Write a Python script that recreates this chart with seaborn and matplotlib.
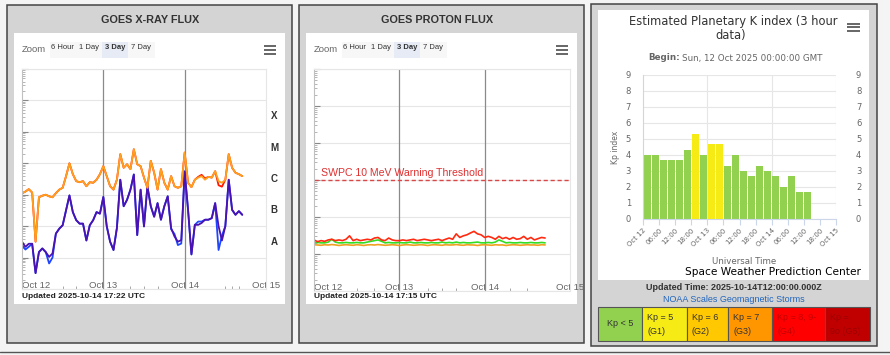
import numpy as np
import seaborn as sns
import matplotlib.pyplot as plt
from matplotlib.patches import Rectangle
from matplotlib.lines import Line2D
from matplotlib.transforms import blended_transform_factory

W, H = 890, 355

# GOES X-ray flux (W/m^2), hourly from Oct 12 00:00 UTC
xray_long = [1.1e-6, 1.26e-6, 1.5e-6, 1.17e-6, 3.2e-8, 8.3e-7, 9.3e-7, 1.0e-6, 8.9e-7, 8.3e-7,
             1.12e-6, 1.45e-6, 1.66e-6, 3.9e-6, 1.0e-5, 4.5e-6, 2.7e-6, 2.5e-6, 2.7e-6, 1.86e-6,
             2.5e-6, 2.4e-6, 3.0e-6, 4.5e-6, 8.1e-6, 3.9e-6, 1.86e-6, 1.45e-6, 3.0e-6, 1.95e-5,
             7.2e-6, 9.3e-6, 6.5e-6, 2.8e-5, 9.3e-6, 8.1e-6, 3.5e-6, 1.66e-6, 1.2e-5, 5.0e-6,
             1.45e-6, 6.5e-6, 2.4e-6, 1.45e-6, 3.9e-6, 1.86e-6, 1.66e-6, 1.86e-6, 2.2e-5, 2.4e-6,
             1.74e-6, 3.0e-6, 3.5e-6, 3.9e-6, 3.0e-6, 3.7e-6, 3.5e-6, 5.6e-6, 2.7e-6, 2.4e-6,
             3.0e-6, 1.95e-5, 7.2e-6, 5.0e-6, 4.5e-6, 3.9e-6]
xray_long_secondary = [1.1e-6, 1.26e-6, 1.5e-6, 1.17e-6, 3.2e-8, 8.3e-7, 9.3e-7, 1.0e-6, 8.9e-7, 8.3e-7,
                       1.12e-6, 1.45e-6, 1.66e-6, 3.9e-6, 1.0e-5, 4.5e-6, 2.7e-6, 2.5e-6, 2.7e-6, 1.86e-6,
                       2.5e-6, 2.4e-6, 3.0e-6, 4.5e-6, 8.1e-6, 3.9e-6, 1.86e-6, 1.45e-6, 3.0e-6, 1.95e-5,
                       7.2e-6, 9.3e-6, 6.5e-6, 2.8e-5, 9.3e-6, 8.1e-6, 3.5e-6, 1.66e-6, 1.2e-5, 5.0e-6,
                       1.45e-6, 6.5e-6, 2.4e-6, 1.45e-6, 3.9e-6, 1.86e-6, 1.66e-6, 1.86e-6, 2.2e-5, 2.4e-6,
                       1.74e-6, 3.0e-6, 3.7e-6, 4.3e-6, 3.3e-6, 3.7e-6, 3.5e-6, 5.6e-6, 2.0e-6, 1.8e-6,
                       3.0e-6, 1.95e-5, 7.2e-6, 5.0e-6, 4.5e-6, 3.9e-6]
xray_short = [3.2e-8, 2.2e-8, 2.75e-8, 2.75e-8, 3.2e-9, 1.5e-8, 1.95e-8, 1.5e-8, 1.05e-8, 1.35e-8,
              5.8e-8, 8.3e-8, 1.07e-7, 3.2e-7, 9.5e-7, 2.8e-7, 1.55e-7, 1.2e-7, 1.2e-7, 3.5e-8,
              1.07e-7, 1.55e-7, 2.8e-7, 2.5e-7, 8.5e-7, 1.0e-7, 3.2e-8, 1.74e-8, 8.7e-8, 3.0e-6,
              4.3e-7, 6.9e-7, 1.45e-6, 4.4e-6, 5.2e-8, 1.45e-6, 9.8e-8, 1.86e-6, 4.3e-7, 2.0e-7,
              5.4e-7, 1.6e-7, 4.3e-7, 8.9e-7, 8.7e-8, 4.7e-8, 3.2e-8, 3.6e-8, 5.5e-6, 3.3e-7,
              1.26e-8, 1.1e-7, 1.1e-7, 1.26e-7, 1.6e-7, 1.6e-7, 1.8e-7, 5.4e-7, 1.0e-7, 3.5e-8,
              1.0e-7, 3.0e-6, 3.3e-7, 2.3e-7, 3.0e-7, 2.3e-7]
xray_short_secondary = [2.5e-8, 1.8e-8, 2.2e-8, 2.75e-8, 3.2e-9, 1.5e-8, 1.95e-8, 1.5e-8, 6.5e-9, 1.0e-8,
                        5.8e-8, 8.3e-8, 1.07e-7, 3.2e-7, 9.5e-7, 2.8e-7, 1.55e-7, 1.2e-7, 1.2e-7, 3.5e-8,
                        1.07e-7, 1.55e-7, 2.8e-7, 2.5e-7, 8.5e-7, 1.0e-7, 3.2e-8, 1.74e-8, 8.7e-8, 3.0e-6,
                        4.3e-7, 6.9e-7, 1.45e-6, 4.4e-6, 5.2e-8, 1.45e-6, 9.8e-8, 1.86e-6, 4.3e-7, 2.0e-7,
                        5.4e-7, 1.6e-7, 4.3e-7, 8.9e-7, 8.0e-8, 5.6e-8, 2.5e-8, 2.8e-8, 5.5e-6, 3.3e-7,
                        1.26e-8, 1.1e-7, 1.4e-7, 1.4e-7, 1.6e-7, 1.6e-7, 1.8e-7, 5.4e-7, 1.74e-8, 5.0e-8,
                        1.0e-7, 3.0e-6, 3.3e-7, 2.3e-7, 3.0e-7, 2.3e-7]
flare_classes = ['A', 'B', 'C', 'M', 'X']
flare_class_floor = [1e-8, 1e-7, 1e-6, 1e-5, 1e-4]

# GOES integral proton flux (pfu), hourly
proton_10mev = [0.24, 0.215, 0.23, 0.22, 0.24, 0.25, 0.23, 0.24, 0.23, 0.25,
                0.31, 0.23, 0.25, 0.23, 0.24, 0.25, 0.24, 0.27, 0.28, 0.24,
                0.23, 0.27, 0.24, 0.23, 0.23, 0.24, 0.23, 0.24, 0.25, 0.23,
                0.24, 0.25, 0.24, 0.23, 0.24, 0.25, 0.23, 0.25, 0.27, 0.25,
                0.35, 0.28, 0.31, 0.33, 0.37, 0.41, 0.35, 0.33, 0.28, 0.30,
                0.28, 0.25, 0.30, 0.26, 0.28, 0.25, 0.28, 0.25, 0.26, 0.30,
                0.25, 0.28, 0.24, 0.26, 0.28, 0.27]
proton_50mev = [0.20, 0.205, 0.20, 0.20, 0.21, 0.25, 0.21, 0.20, 0.20, 0.205,
                0.20, 0.20, 0.205, 0.20, 0.20, 0.21, 0.22, 0.23, 0.24, 0.22,
                0.20, 0.205, 0.20, 0.20, 0.205, 0.20, 0.20, 0.21, 0.20, 0.20,
                0.205, 0.20, 0.20, 0.205, 0.20, 0.20, 0.21, 0.20, 0.205, 0.20,
                0.21, 0.20, 0.205, 0.20, 0.20, 0.205, 0.21, 0.20, 0.20, 0.205,
                0.20, 0.21, 0.24, 0.22, 0.20, 0.205, 0.20, 0.20, 0.205, 0.20,
                0.20, 0.205, 0.20, 0.20, 0.205, 0.20]
proton_100mev = [0.178, 0.175, 0.172, 0.178, 0.175, 0.18, 0.176, 0.17, 0.175, 0.178,
                 0.175, 0.172, 0.178, 0.175, 0.17, 0.176, 0.178, 0.175, 0.18, 0.176,
                 0.172, 0.175, 0.178, 0.175, 0.17, 0.175, 0.178, 0.176, 0.172, 0.175,
                 0.178, 0.175, 0.17, 0.176, 0.178, 0.175, 0.172, 0.178, 0.175, 0.176,
                 0.18, 0.175, 0.172, 0.178, 0.176, 0.175, 0.17, 0.176, 0.178, 0.175,
                 0.172, 0.178, 0.175, 0.176, 0.17, 0.175, 0.178, 0.176, 0.172, 0.175,
                 0.178, 0.175, 0.176, 0.172, 0.178, 0.176]
proton_threshold = 10

day_labels = ['Oct 12', 'Oct 13', 'Oct 14', 'Oct 15']
xray_minor_hours = [12, 16, 32, 36, 40, 60, 62, 64]
proton_minor_hours = [12, 17, 32, 36, 40, 55, 60]

# Kp index, 3-hour bins from Oct 12 00:00
kp_values = [4, 4, 3.67, 3.67, 3.67, 4.33, 5.33, 4, 4.67, 4.67, 3.33,
             4, 3, 2.67, 3.33, 3, 2.67, 2, 2.67, 1.67, 1.67]
kp_tick_labels = ['Oct 12', '06:00', '12:00', '18:00', 'Oct 13', '06:00', '12:00',
                  '18:00', 'Oct 14', '06:00', '12:00', '18:00', 'Oct 15']
storm_labels = ['Kp < 5', 'Kp = 5\n(G1)', 'Kp = 6\n(G2)', 'Kp = 7\n(G3)',
                'Kp = 8, 9-\n(G4)', 'Kp =\n9o (G5)']
storm_colors = ['#92d050', '#f6eb14', '#ffc800', '#ff9600', '#ff0000', '#c00000']
storm_text_colors = ['#333333', '#333333', '#333333', '#333333', '#c40000', '#9c0000']

sns.set_style('white')
plt.rcParams['font.family'] = ['Liberation Sans', 'DejaVu Sans']

fig = plt.figure(figsize=(8.9, 3.55), dpi=100)
fig.patch.set_facecolor('#f4f4f4')


def frect(x0, y0, x1, y1, **kw):
    kw.setdefault('zorder', -5)
    fig.add_artist(Rectangle((x0 / W, 1 - y1 / H), (x1 - x0) / W, (y1 - y0) / H,
                             transform=fig.transFigure, **kw))


def ftext(x, y, s, **kw):
    kw.setdefault('va', 'center')
    return fig.text(x / W, 1 - y / H, s, **kw)


def fline(x0, x1, y, **kw):
    fig.add_artist(Line2D([x0 / W, x1 / W], [1 - y / H] * 2, transform=fig.transFigure, **kw))


def hamburger(x0, x1, yc, gap):
    for dy in (-gap, 0, gap):
        fline(x0, x1, yc + dy, color='#666666', lw=1.4, solid_capstyle='butt')


def axes_px(x0, y0, x1, y1):
    return fig.add_axes([x0 / W, 1 - y1 / H, (x1 - x0) / W, (y1 - y0) / H])


def goes_frame(ox, title, title_x, updated):
    frect(ox + 7, 5, ox + 292, 343, fc='#d4d4d4', ec='#444444', lw=1.1)
    frect(ox + 14, 33, ox + 285, 304, fc='white', ec='none')
    ftext(title_x, 20, title, ha='center', weight='bold', size=7.8, color='#333333')
    ftext(ox + 22, 49, 'Zoom', size=6.8, color='#666666')
    frect(ox + 50, 42, ox + 155, 58, fc='#f7f7f7', ec='none')
    frect(ox + 102, 42, ox + 128, 58, fc='#e6ebf5', ec='none')
    for label, bx in zip(['6 Hour', '1 Day', '3 Day', '7 Day'], [51, 79, 105, 131]):
        ftext(ox + bx, 47.5, label, size=5.5, color='#333333',
              weight='bold' if label == '3 Day' else 'normal')
    hamburger(ox + 264, ox + 276, 50, 4)
    ftext(ox + 22, 297, updated, size=6, weight='bold', color='#222222')


def goes_axes(ax, ylim, minor_hours):
    ax.set_yscale('log')
    ax.set_ylim(*ylim)
    ax.set_xlim(0, 72)
    ax.set_facecolor('white')
    ax.grid(True, axis='y', which='major', color='#e6e6e6', lw=0.8)
    ax.grid(False, axis='x')
    for h in (24, 48):
        ax.axvline(h, color='#8a8a8a', lw=0.9, zorder=1)
    for s in ax.spines.values():
        s.set_color('#e6e6e6')
        s.set_linewidth(0.8)
    ax.spines['left'].set_color('#c0c0c0')
    ax.set_xticks([0, 24, 48, 72])
    ax.set_xticklabels(day_labels)
    ax.set_xticks(minor_hours, minor=True)
    ax.tick_params(axis='x', which='major', bottom=True, length=0, pad=-5.5,
                   labelsize=6.8, labelcolor='#666666')
    ax.tick_params(axis='x', which='minor', bottom=True, direction='in', length=2.5, color='#999999')
    ax.tick_params(axis='y', which='major', left=True, direction='in', length=4,
                   color='#888888', labelleft=False)
    ax.tick_params(axis='y', which='minor', left=True, direction='in', length=2,
                   color='#aaaaaa', labelleft=False)
    ax.get_xticklabels()[0].set_ha('left')
    ax.set_xlabel('')
    ax.set_ylabel('')


# ---- GOES X-ray flux panel ----
goes_frame(0, 'GOES X-RAY FLUX', 150, 'Updated 2025-10-14 17:22 UTC')
ax1 = axes_px(22, 69, 266, 289)
xray_hours = np.arange(len(xray_long))
sns.lineplot(x=xray_hours, y=xray_short_secondary, color='#1f45ff', lw=1.3, ax=ax1)
sns.lineplot(x=xray_hours, y=xray_short, color='#4a12b0', lw=1.3, ax=ax1)
sns.lineplot(x=xray_hours, y=xray_long_secondary, color='#ff1a00', lw=1.3, ax=ax1)
sns.lineplot(x=xray_hours, y=xray_long, color='#ffa01e', lw=1.3, ax=ax1)
goes_axes(ax1, (1e-9, 1e-2), xray_minor_hours)
trans = blended_transform_factory(ax1.transAxes, ax1.transData)
for cls, floor in zip(flare_classes, flare_class_floor):
    ax1.text(1.033, floor * np.sqrt(10), cls, transform=trans, ha='center', va='center',
             size=7, weight='bold', color='#333333', clip_on=False)

# ---- GOES proton flux panel ----
goes_frame(292, 'GOES PROTON FLUX', 437, 'Updated 2025-10-14 17:15 UTC')
ax2 = axes_px(314, 69, 570, 291)
proton_hours = np.arange(len(proton_10mev))
sns.lineplot(x=proton_hours, y=proton_100mev, color='#f0a020', lw=1.2, ax=ax2)
sns.lineplot(x=proton_hours, y=proton_50mev, color='#33dd22', lw=1.2, ax=ax2)
sns.lineplot(x=proton_hours, y=proton_10mev, color='#ff2a10', lw=1.2, ax=ax2)
goes_axes(ax2, (1e-2, 1e4), proton_minor_hours)
ax2.axhline(proton_threshold, color='#d84848', lw=1, ls=(0, (3, 2)))
ax2.text(2, proton_threshold * 10 ** 0.05, 'SWPC 10 MeV Warning Threshold',
         color='#e03030', size=7.6, va='bottom', ha='left')

# ---- Kp index panel ----
frect(591, 4, 877, 346, fc='#d4d4d4', ec='#444444', lw=1.1)
frect(598, 10, 869, 280, fc='white', ec='none')
ftext(733, 22, 'Estimated Planetary K index (3 hour', ha='center', size=8.3,
      color='#333333', family='DejaVu Sans')
ftext(731, 36, 'data)', ha='center', size=8.3, color='#333333', family='DejaVu Sans')
hamburger(847, 860, 27, 3.5)
ftext(648, 58, 'Begin:', size=6.3, weight='bold', color='#666666', family='DejaVu Sans')
ftext(682, 58, 'Sun, 12 Oct 2025 00:00:00 GMT', size=6.3, color='#666666', family='DejaVu Sans')

ax3 = axes_px(643, 75, 836, 219)
kp_hours = np.arange(len(kp_values)) * 3 + 1.5
kp_level = ['G1' if v > 4.5 else 'quiet' for v in kp_values]
sns.barplot(x=kp_hours, y=kp_values, hue=kp_level, palette={'quiet': '#92d050', 'G1': '#f6eb14'},
            native_scale=True, width=0.87, dodge=False, errorbar=None, legend=False,
            saturation=1, linewidth=0, ax=ax3)
ax3.set_xlim(0, 72)
ax3.set_ylim(0, 9)
ax3.set_axisbelow(True)
ax3.set_yticks(range(10))
ax3.grid(True, axis='y', color='#e6e6e6', lw=0.8)
ax3.grid(False, axis='x')
for h in (24, 48, 72):
    ax3.axvline(h, color='#e6e6e6', lw=0.8, zorder=0)
ax3.set_xticks(range(0, 73, 6))
ax3.set_xticklabels(kp_tick_labels, rotation=45, ha='right', rotation_mode='anchor')
ax3.tick_params(axis='x', bottom=True, length=4, color='#ccd6eb', labelsize=5, labelcolor='#666666', pad=2)
ax3.tick_params(axis='y', left=False, length=0, pad=8.6, labelsize=6, labelcolor='#666666')
for s in ('top', 'right'):
    ax3.spines[s].set_visible(False)
ax3.spines['left'].set_color('#ccd6eb')
ax3.spines['bottom'].set_color('#ccd6eb')
for lab in ax3.get_xticklabels() + ax3.get_yticklabels():
    lab.set_family('DejaVu Sans')
ax3.set_xlabel('')
ax3.set_ylabel('')
ax3r = ax3.twinx()
ax3r.set_ylim(0, 9)
ax3r.set_yticks(range(10))
ax3r.grid(False)
ax3r.tick_params(axis='y', right=False, length=0, pad=14.4, labelsize=6, labelcolor='#666666')
for lab in ax3r.get_yticklabels():
    lab.set_family('DejaVu Sans')
for s in ax3r.spines.values():
    s.set_visible(False)

ftext(616, 147, 'Kp index', rotation=90, ha='center', size=5.5, color='#666666', family='DejaVu Sans')
ftext(744, 261, 'Universal Time', ha='center', size=6.2, color='#666666', family='DejaVu Sans')
ftext(861, 272, 'Space Weather Prediction Center', ha='right', size=7.6, color='black',
      family='DejaVu Sans')
ftext(734, 287, 'Updated Time: 2025-10-14T12:00:00.000Z', ha='center', size=6.5,
      weight='bold', color='#333333')
ftext(734, 300, 'NOAA Scales Geomagnetic Storms', ha='center', size=6.5, color='#2266bb')

cell_edges = [598, 642, 687, 728, 772, 825, 870]
for i, (label, fc, tc) in enumerate(zip(storm_labels, storm_colors, storm_text_colors)):
    x0, x1 = cell_edges[i], cell_edges[i + 1]
    frect(x0, 307, x1, 341, fc=fc, ec='#555555', lw=0.8)
    lines = label.split('\n')
    if len(lines) == 1:
        ftext((x0 + x1) / 2, 324, lines[0], ha='center', size=6.5, color=tc)
    else:
        ftext(x0 + 5, 317, lines[0], size=6.5, color=tc)
        ftext(x0 + 5, 331, lines[1], size=6.5, color=tc)

fline(0, 890, 351.5, color='#555555', lw=1)

fig.savefig('out.png', dpi=100, facecolor=fig.get_facecolor())
